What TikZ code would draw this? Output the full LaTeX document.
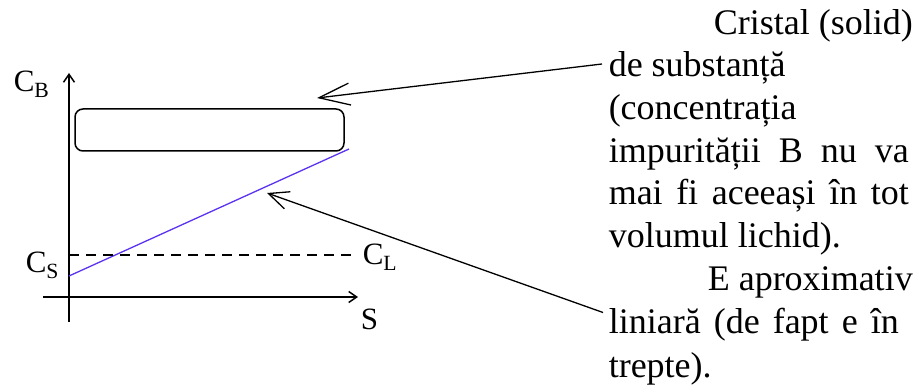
\documentclass[tikz,border=0pt]{standalone}
\usepackage{fontspec}
\setmainfont{Liberation Serif}
\usetikzlibrary{arrows.meta}
\definecolor{lineblue}{RGB}{90,50,240}
\newlength{\colw}
\setlength{\colw}{300pt}

\begin{document}
\begin{tikzpicture}[x=1pt, y=-1pt, line width=1.5pt,
  >={Straight Barb[length=8pt,width=11pt]},
  axislabel/.style={inner sep=0, anchor=base west, font=\fontsize{31}{33}\selectfont},
  remark/.style={inner sep=0, align=left, anchor=base west, font=\fontsize{36}{42.7}\selectfont},
  callout/.style={->, line width=1.3pt}]
\useasboundingbox (0,0) rectangle (919,390);

% axes
\coordinate (ybot) at (69,322);
\coordinate (ytop) at (69,73);
\coordinate (xleft) at (43,297);
\coordinate (xright) at (358,297);
\draw[->] (ybot) -- (ytop);
\draw[->] (xleft) -- (xright);

\node (cb) at (13,92) [axislabel] {C\textsubscript{B}};
\node (cs) at (25,273) [axislabel] {C\textsubscript{S}};
\node (cl) at (362,265) [axislabel] {C\textsubscript{L}};
\node (s) at (360,330) [axislabel] {S};

% solid bar and profile
\node (bar) at (209.5,130) [draw, rounded corners=8pt, minimum width=269pt, minimum height=42pt] {};
\coordinate (b0) at (69,276);
\coordinate (b1) at (349,149);
\draw[lineblue, line width=1.3pt] (b0) -- (b1);
\coordinate (cs0) at (69,255);
\draw[dashed, dash pattern=on 10pt off 7pt] (cs0) -- (cs0 -| cl.west) [shorten >=5pt];

% remarks (base = last line)
\node (crystal) at (608,247.5) [remark] {\makebox[304pt][r]{Cristal (solid)}\\
  de substanță\\
  (concentrația\\
  \makebox[\colw][s]{impurității B nu va}\\
  \makebox[\colw][s]{mai fi aceeași în tot}\\
  volumul lichid).};
\node (linear) at (608,377) [remark, font=\fontsize{36}{43.5}\selectfont] {\makebox[304pt][r]{E aproximativ}\\
  \makebox[290pt][s]{liniară (de fapt e în}\\
  trepte).};

\coordinate (tip1) at (317,98);
\coordinate (tip2) at (267,193);
\draw[callout, >={Straight Barb[length=31pt,width=22pt]}] ([shift={(-6,-183.5)}]crystal.base west) -- (tip1);
\draw[callout, >={Straight Barb[length=20pt,width=18pt]}] ([shift={(-5,-64.5)}]linear.base west) -- (tip2);
\end{tikzpicture}
\end{document}
